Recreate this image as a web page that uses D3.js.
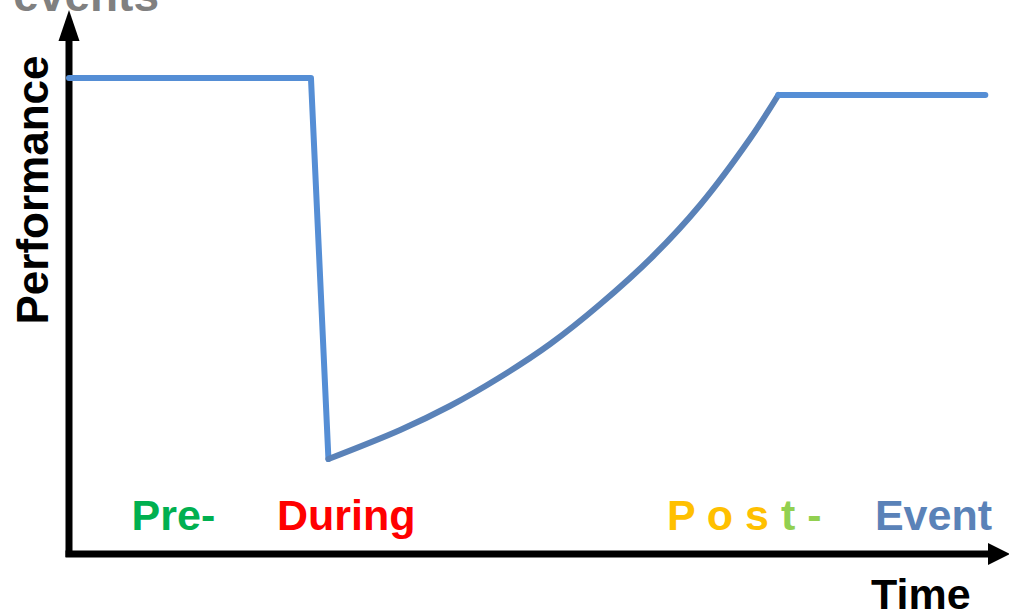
<!DOCTYPE html>
<html>
<head>
<meta charset="utf-8">
<script src="https://cdn.jsdelivr.net/npm/d3@7"></script>
<style>
  body { margin: 0; background: #fff; }
  svg { display: block; }
  text { font-family: "Liberation Sans", Arial, sans-serif; font-weight: bold; }
</style>
</head>
<body>
<svg id="chart" width="1009" height="615"></svg>
<script>
// performance before / during the event (time, performance), arbitrary units
var baseline = [[0, 95.2], [26.3, 95.2], [28.2, 19]];
// recovery after the event
var recovery = [[28.2, 19], [36, 24.8], [41.4, 29.6], [46.8, 35.3], [52.3, 42], [57.7, 49.9],
                [63.5, 59.6], [68.6, 69.8], [74, 83], [77.1, 91.8]];
// new steady level
var plateau = [[77.1, 91.8], [99.6, 91.8]];

var phaseLabels = [
  {parts: [["Pre-", "#00B050"]], t: 6.8},
  {parts: [["During", "#FF0000"]], t: 22.6},
  {parts: [["P o s ", "#FFC000"], ["t -", "#92D050"]], t: 65},
  {parts: [["Event", "#5A82B8"]], t: 87.6}
];

var svg = d3.select("#chart");

var x = d3.scaleLinear().domain([0, 100]).range([69, 989]),
    y = d3.scaleLinear().domain([0, 100]).range([554, 54]);

var line = d3.line()
    .x(function(d) { return x(d[0]); })
    .y(function(d) { return y(d[1]); });

// title, mostly outside the picture
svg.append("text")
    .attr("x", 159)
    .attr("y", 11)
    .attr("text-anchor", "end")
    .attr("font-size", 46)
    .attr("fill", "#808080")
    .text("events");

// axes with arrowheads
var x0 = x.range()[0], y0 = y.range()[0];
svg.append("path")
    .attr("d", "M" + x0 + "," + (y0 + 3) + "V38")
    .attr("stroke", "#000")
    .attr("stroke-width", 7)
    .attr("fill", "none");
svg.append("path")
    .attr("d", "M" + (x0 - 3.5) + "," + y0 + "H992")
    .attr("stroke", "#000")
    .attr("stroke-width", 7)
    .attr("fill", "none");
svg.append("path")
    .attr("d", "M" + x0 + ",10L" + (x0 + 10.5) + ",41L" + (x0 - 10.5) + ",41Z")
    .attr("fill", "#000");
svg.append("path")
    .attr("d", "M1010," + y0 + "L988," + (y0 - 11) + "L988," + (y0 + 11) + "Z")
    .attr("fill", "#000");

// the performance curve
svg.append("path")
    .datum(baseline)
    .attr("d", line)
    .attr("fill", "none")
    .attr("stroke", "#558ED5")
    .attr("stroke-width", 6)
    .attr("stroke-linecap", "round")
    .attr("stroke-linejoin", "round");

svg.append("path")
    .datum(recovery)
    .attr("d", line.curve(d3.curveCatmullRom.alpha(0.5)))
    .attr("fill", "none")
    .attr("stroke", "#5A82B8")
    .attr("stroke-width", 6)
    .attr("stroke-linecap", "round");
line.curve(d3.curveLinear);

svg.append("path")
    .datum(plateau)
    .attr("d", line)
    .attr("fill", "none")
    .attr("stroke", "#558ED5")
    .attr("stroke-width", 6)
    .attr("stroke-linecap", "round");

// phase labels
phaseLabels.forEach(function(p) {
  var t = svg.append("text")
      .attr("x", x(p.t))
      .attr("y", 530)
      .attr("font-size", 43)
      .attr("xml:space", "preserve")
      .style("white-space", "pre");
  p.parts.forEach(function(part) {
    t.append("tspan").attr("fill", part[1]).text(part[0]);
  });
});

// axis titles
svg.append("text")
    .attr("transform", "translate(48,190) rotate(-90)")
    .attr("text-anchor", "middle")
    .attr("font-size", 44)
    .attr("fill", "#000")
    .text("Performance");

svg.append("text")
    .attr("x", 871)
    .attr("y", 609)
    .attr("font-size", 43)
    .attr("fill", "#000")
    .text("Time");
</script>
</body>
</html>
